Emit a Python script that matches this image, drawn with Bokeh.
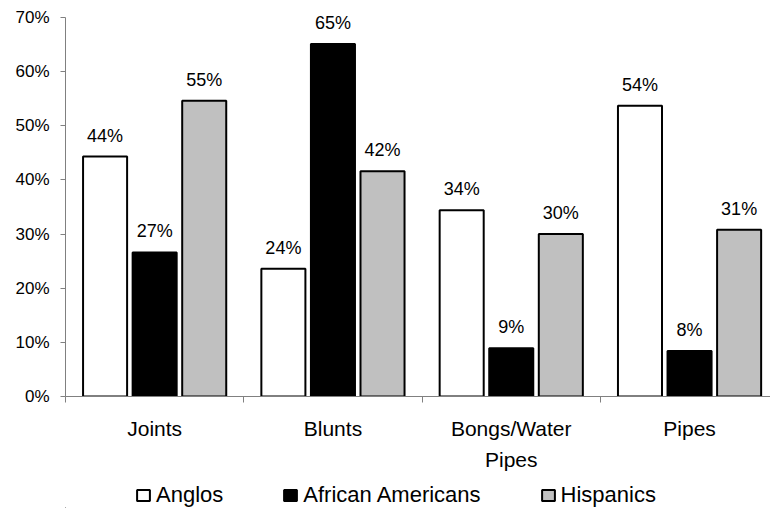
from bokeh.plotting import figure
from bokeh.layouts import column
from bokeh.models import (Range1d, FixedTicker, PrintfTickFormatter, Legend, LegendItem,
                          ColumnDataSource, LinearAxis)
from bokeh.embed import file_html
from bokeh.resources import INLINE

categories = ["Joints", "Blunts", "Bongs/Water\nPipes", "Pipes"]
series = ["Anglos", "African Americans", "Hispanics"]
anglos = [44.3, 23.6, 34.4, 53.7]
african_americans = [26.6, 65.1, 8.9, 8.4]
hispanics = [54.6, 41.6, 30.0, 30.8]
y_ticks = [0, 10, 20, 30, 40, 50, 60, 70]

values = [anglos, african_americans, hispanics]
fills = ["#ffffff", "#000000", "#c0c0c0"]
offsets = [-0.278, 0.0, 0.278]
FONT = "Liberation Sans"

p = figure(width=770, height=480, output_backend="svg", toolbar_location=None,
           x_range=Range1d(0, 3.954), y_range=Range1d(0, 72.2),
           min_border_left=65, min_border_top=5, min_border_bottom=84,
           min_border_right=0)
p.outline_line_color = None
p.xgrid.visible = False
p.ygrid.visible = False
p.xaxis.visible = False

for vals, fill, off, name in zip(values, fills, offsets, series):
    xs = [i + 0.5 + off for i in range(len(categories))]
    src = ColumnDataSource(dict(x=xs, top=vals,
                                label=["%d%%" % round(v) for v in vals]))
    p.vbar(x="x", top="top", width=0.247, bottom=0, source=src,
           fill_color=fill, line_color="#000000", line_width=2)
    p.text(x="x", y="top", text="label", source=src, text_align="center",
           text_baseline="alphabetic", y_offset=-21, text_font_size="18px",
           text_font={"value": FONT}, text_color="#000000")

# x axis: labels at category centres, ticks at boundaries
xaxis = LinearAxis(ticker=FixedTicker(ticks=[i + 0.5 for i in range(len(categories))],
                                      minor_ticks=list(range(len(categories) + 1))))
xaxis.major_label_overrides = {i + 0.5: c for i, c in enumerate(categories)}
xaxis.major_tick_line_color = None
xaxis.minor_tick_out = 6
xaxis.minor_tick_in = 0
xaxis.minor_tick_line_color = "#808080"
xaxis.axis_line_color = "#808080"
xaxis.major_label_text_font = FONT
xaxis.major_label_text_font_size = "21px"
xaxis.major_label_text_color = "#000000"
xaxis.major_label_text_line_height = 1.38
xaxis.major_label_standoff = 14
p.add_layout(xaxis, "below")

yax = p.yaxis[0]
yax.ticker = FixedTicker(ticks=y_ticks)
yax.bounds = (y_ticks[0], y_ticks[-1])
yax.formatter = PrintfTickFormatter(format="%d%%")
yax.minor_tick_line_color = None
yax.major_tick_in = 0
yax.major_tick_out = 5
yax.major_tick_line_color = "#808080"
yax.axis_line_color = "#808080"
yax.major_label_text_font = FONT
yax.major_label_text_font_size = "17px"
yax.major_label_text_color = "#000000"
yax.major_label_standoff = 11

# legend strip below the chart (dummy renderers only carry the legend styles)
p2 = figure(width=770, height=28, output_backend="svg", toolbar_location=None,
            x_range=Range1d(0, 1), y_range=Range1d(0, 1),
            x_axis_type=None, y_axis_type=None,
            min_border_left=0, min_border_right=0, min_border_top=0, min_border_bottom=0)
p2.outline_line_color = None
p2.grid.visible = False
legend_renderers = [p2.vbar(x=[-10], top=[0], width=0.1, fill_color=fill,
                            line_color="#000000", line_width=2) for fill in fills]
legend = Legend(items=[LegendItem(label=s, renderers=[r])
                       for s, r in zip(series, legend_renderers)],
                orientation="horizontal", location=(70, 0), padding=0, margin=0,
                spacing=59, glyph_width=16, glyph_height=14,
                label_height=24, label_standoff=5, border_line_color=None,
                background_fill_alpha=0, label_text_font=FONT,
                label_text_font_size="22px", label_text_color="#000000")
p2.add_layout(legend, "center")

open("out.html", "w").write(file_html(column(p, p2, spacing=0), INLINE))
